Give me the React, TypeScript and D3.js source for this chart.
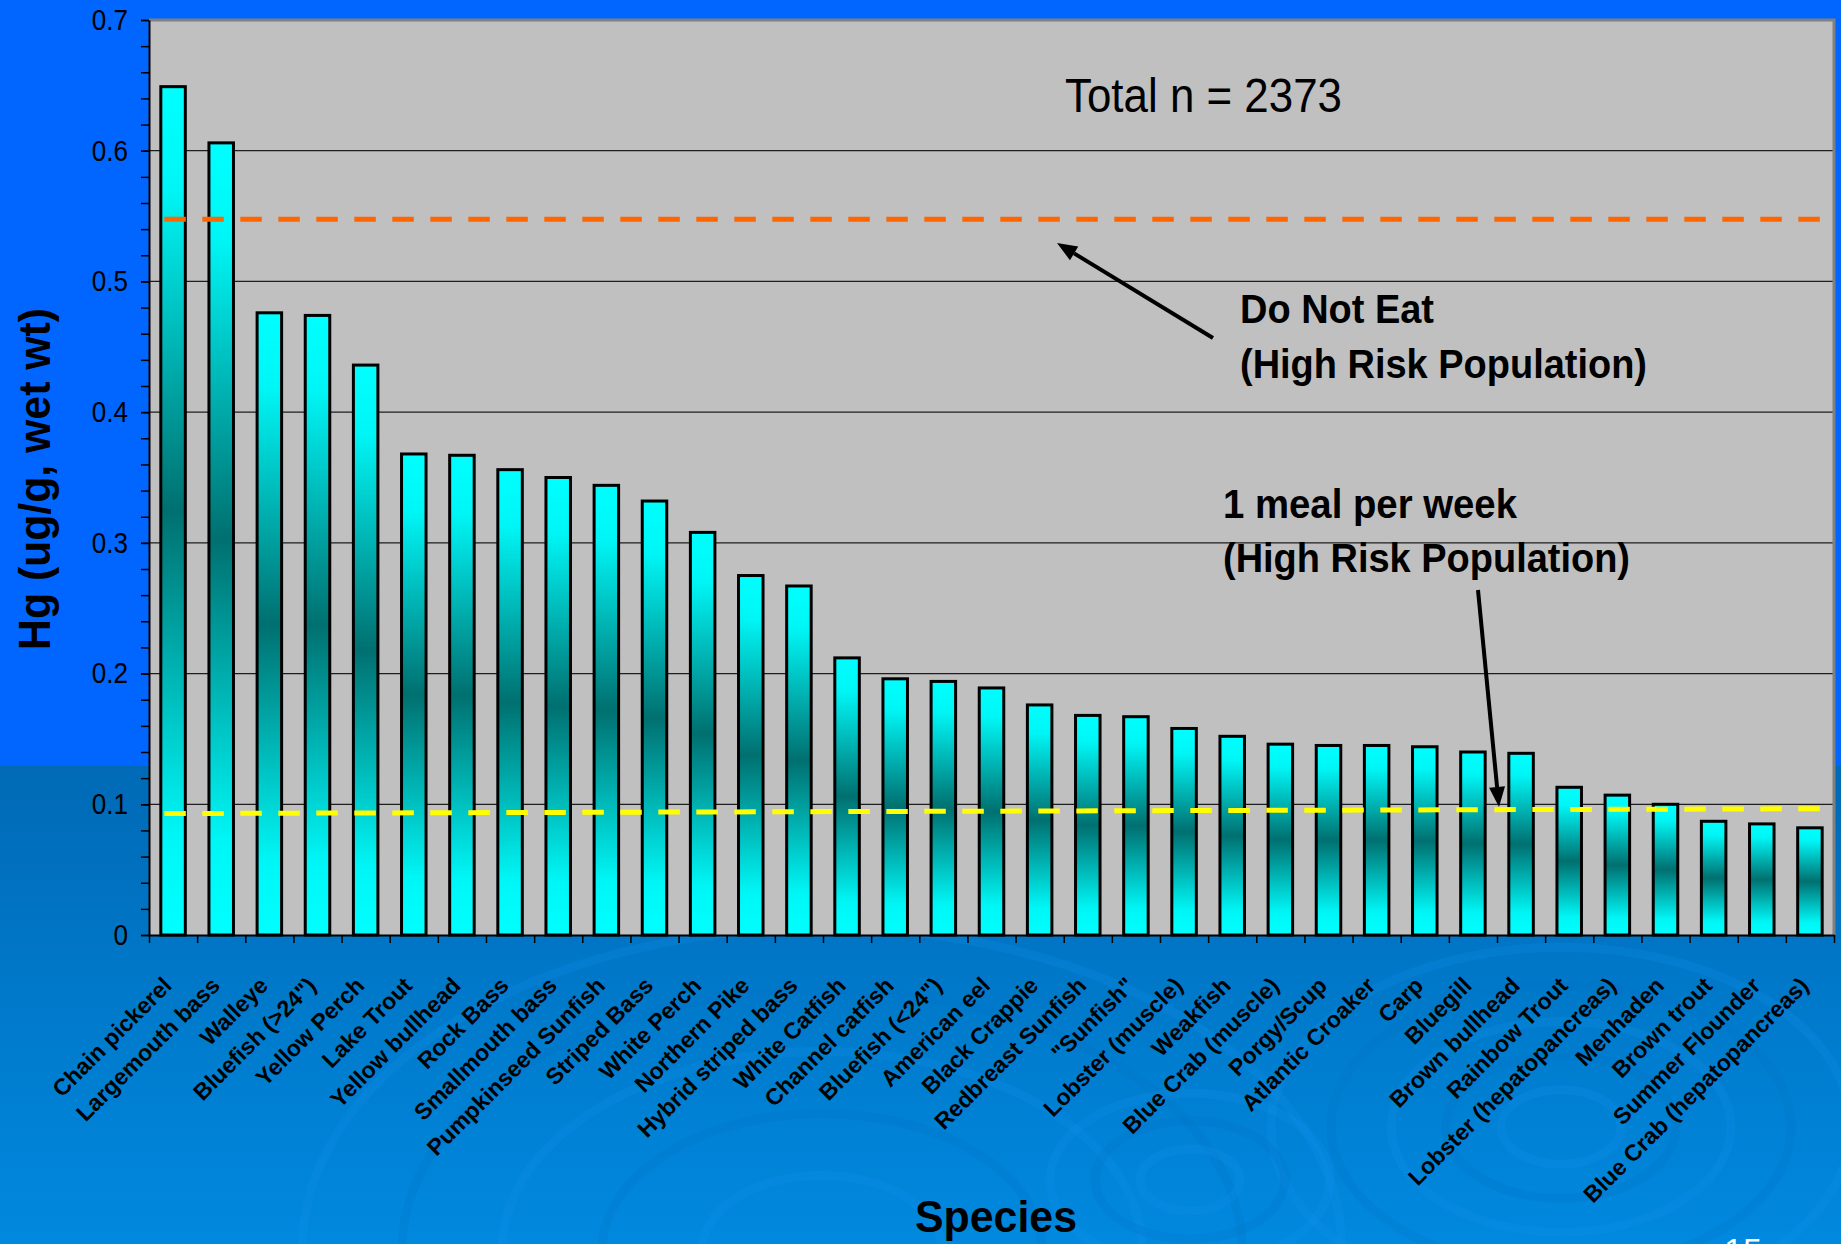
import React, { useEffect, useRef } from "react";
import * as d3 from "d3";

// ---------- data ----------
const species: string[] = [
  "Chain pickerel", "Largemouth bass", "Walleye", "Bluefish (>24\")", "Yellow Perch",
  "Lake Trout", "Yellow bullhead", "Rock Bass", "Smallmouth bass", "Pumpkinseed Sunfish",
  "Striped Bass", "White Perch", "Northern Pike", "Hybrid striped bass", "White Catfish",
  "Channel catfish", "Bluefish (<24\")", "American eel", "Black Crappie", "Redbreast Sunfish",
  "\"Sunfish\"", "Lobster (muscle)", "Weakfish", "Blue Crab (muscle)", "Porgy/Scup",
  "Atlantic Croaker", "Carp", "Bluegill", "Brown bullhead", "Rainbow Trout",
  "Lobster (hepatopancreas)", "Menhaden", "Brown trout", "Summer Flounder", "Blue Crab (hepatopancreas)",
];

const hgValues: number[] = [
  0.649, 0.606, 0.476, 0.474, 0.436,
  0.368, 0.367, 0.356, 0.350, 0.344,
  0.332, 0.308, 0.275, 0.267, 0.212,
  0.196, 0.194, 0.189, 0.176, 0.168,
  0.167, 0.158, 0.152, 0.146, 0.145,
  0.145, 0.144, 0.140, 0.139, 0.113,
  0.107, 0.100, 0.087, 0.085, 0.082,
];

const yTickValues: number[] = [0, 0.1, 0.2, 0.3, 0.4, 0.5, 0.6, 0.7];
const yTickLabels: string[] = ["0", "0.1", "0.2", "0.3", "0.4", "0.5", "0.6", "0.7"];
const yMinorStep = 0.02;
const yMax = 0.7;

const doNotEatLevel = 0.5475;
const mealLevelStart = 0.0929;
const mealLevelEnd = 0.0966;

const totalLabel = "Total n = 2373";
const doNotEatLines: string[] = ["Do Not Eat", "(High Risk Population)"];
const mealLines: string[] = ["1 meal per week", "(High Risk Population)"];
const xTitle = "Species";
const yTitle = "Hg (ug/g, wet wt)";
const pageNumber = "15";

// ---------- layout ----------
const W = 1841;
const H = 1244;
const P = { left: 149, top: 20, right: 1834, bottom: 935 };
const FONT = "'Liberation Sans', Arial, Helvetica, sans-serif";

export default function App() {
  const ref = useRef<SVGSVGElement | null>(null);

  useEffect(() => {
    const svg = d3.select(ref.current as SVGSVGElement);
    svg.selectAll("*").remove();

    const defs = svg.append("defs");
    const bg = defs.append("linearGradient").attr("id", "bgLower")
      .attr("x1", 0).attr("y1", 0).attr("x2", 0).attr("y2", 1);
    bg.append("stop").attr("offset", 0).attr("stop-color", "#006AB6");
    bg.append("stop").attr("offset", 1).attr("stop-color", "#0089DF");

    const bar = defs.append("linearGradient").attr("id", "barGrad")
      .attr("x1", 0).attr("y1", 0).attr("x2", 0).attr("y2", 1);
    [
      [0, "#00FFFF"], [0.12, "#00F6F6"], [0.5, "#007070"],
      [0.88, "#00F6F6"], [1, "#00FFFF"],
    ].forEach(([o, c]) => bar.append("stop").attr("offset", o as number).attr("stop-color", c as string));

    defs.append("clipPath").attr("id", "lowerClip")
      .append("rect").attr("x", 0).attr("y", 766).attr("width", W).attr("height", H - 766);

    // background
    svg.append("rect").attr("x", 0).attr("y", 0).attr("width", W).attr("height", 766).attr("fill", "#0066FF");
    svg.append("rect").attr("x", 0).attr("y", 766).attr("width", W).attr("height", H - 766).attr("fill", "url(#bgLower)");

    // decorative ripples
    const rip = svg.append("g").attr("clip-path", "url(#lowerClip)").attr("fill", "none");
    const rippleSets: [number, number, number[]][] = [
      [1561, 1127, [60, 115, 170, 230, 290]],
      [822, 1250, [120, 220, 320, 420, 520]],
      [1190, 1180, [50, 95, 140]],
    ];
    rippleSets.forEach(([cx, cy, rs]) => {
      rs.forEach((r, k) => {
        rip.append("ellipse").attr("cx", cx).attr("cy", cy).attr("rx", r).attr("ry", r * 0.62)
          .attr("stroke", k % 2 === 0 ? "#1393EC" : "#0071C4")
          .attr("stroke-width", 9).attr("opacity", 0.22);
      });
    });

    const x = d3.scaleBand<string>().domain(species).range([P.left, P.right])
      .paddingInner(0.4286).paddingOuter(0.2143);
    const y = d3.scaleLinear().domain([0, yMax]).range([P.bottom, P.top]);
    const bw = x.bandwidth();

    // plot area
    svg.append("rect").attr("x", P.left).attr("y", P.top)
      .attr("width", P.right - P.left).attr("height", P.bottom - P.top).attr("fill", "#C0C0C0");

    // gridlines
    svg.append("g").selectAll("line")
      .data(yTickValues.filter((v) => v > 0 && v < yMax))
      .join("line")
      .attr("x1", P.left).attr("x2", P.right)
      .attr("y1", (d) => y(d)).attr("y2", (d) => y(d))
      .attr("stroke", "#1E1E1E").attr("stroke-width", 1.2);

    // bars
    svg.append("g").selectAll("rect")
      .data(species.map((s, i) => ({ s, v: hgValues[i] })))
      .join("rect")
      .attr("x", (d) => (x(d.s) as number) + 1.5)
      .attr("width", bw - 3)
      .attr("y", (d) => y(d.v))
      .attr("height", (d) => y(0) - y(d.v))
      .attr("fill", "url(#barGrad)")
      .attr("stroke", "#000").attr("stroke-width", 3);

    // reference lines
    const lx1 = (x(species[0]) as number) + 5;
    const lx2 = (x(species[species.length - 1]) as number) + bw - 2;
    svg.append("line").attr("x1", lx1).attr("x2", lx2)
      .attr("y1", y(doNotEatLevel)).attr("y2", y(doNotEatLevel))
      .attr("stroke", "#FF6600").attr("stroke-width", 5).attr("stroke-dasharray", "21.5 16.5");
    svg.append("line").attr("x1", lx1).attr("x2", lx2)
      .attr("y1", y(mealLevelStart)).attr("y2", y(mealLevelEnd))
      .attr("stroke", "#FFFF00").attr("stroke-width", 5).attr("stroke-dasharray", "21.5 16.5");

    // plot border (top, right)
    svg.append("path")
      .attr("d", `M${P.left},${P.top}H${P.right}V${P.bottom}`)
      .attr("fill", "none").attr("stroke", "#808080").attr("stroke-width", 3);

    // y axis minor ticks
    const minorVals = d3.range(0, Math.round(yMax / yMinorStep) + 1).map((i) => i * yMinorStep);
    const gMinor = svg.append("g").attr("transform", `translate(${P.left},0)`)
      .call(d3.axisLeft(y).tickValues(minorVals).tickSize(8).tickSizeOuter(0).tickFormat(() => ""));
    gMinor.select(".domain").attr("stroke", "#000").attr("stroke-width", 2);
    gMinor.selectAll(".tick line").attr("stroke", "#000").attr("stroke-width", 1.5);

    // y axis major ticks + labels
    const gY = svg.append("g").attr("transform", `translate(${P.left},0)`)
      .call(d3.axisLeft(y).tickValues(yTickValues).tickSize(8).tickPadding(13).tickSizeOuter(0)
        .tickFormat((_d, i) => yTickLabels[i]));
    gY.select(".domain").remove();
    gY.selectAll(".tick line").attr("stroke", "#000").attr("stroke-width", 1.5);
    gY.selectAll(".tick text")
      .attr("font-family", FONT).attr("font-size", 29).attr("fill", "#000")
      .attr("x", -21 / 0.9).attr("transform", "scale(0.9,1)");

    // x axis ticks at category boundaries
    const xb = d3.scaleLinear().domain([0, species.length]).range([P.left, P.right]);
    const gX = svg.append("g").attr("transform", `translate(0,${P.bottom})`)
      .call(d3.axisBottom(xb).tickValues(d3.range(0, species.length + 1)).tickSize(8)
        .tickSizeOuter(0).tickFormat(() => ""));
    gX.select(".domain").attr("stroke", "#000").attr("stroke-width", 2);
    gX.selectAll(".tick line").attr("stroke", "#000").attr("stroke-width", 1.5);

    // x labels
    svg.append("g").selectAll("text")
      .data(species)
      .join("text")
      .attr("transform", (d) => `translate(${(x(d) as number) + bw / 2},${P.bottom + 52}) rotate(-45)`)
      .attr("text-anchor", "end")
      .attr("font-family", FONT).attr("font-weight", "bold").attr("font-size", 23)
      .attr("fill", "#000")
      .text((d) => d);

    // axis titles
    svg.append("text")
      .attr("transform", `translate(50,479) rotate(-90)`)
      .attr("text-anchor", "middle")
      .attr("font-family", FONT).attr("font-weight", "bold").attr("font-size", 44)
      .attr("textLength", 342).attr("lengthAdjust", "spacingAndGlyphs")
      .attr("fill", "#000").text(yTitle);

    svg.append("text")
      .attr("x", 915).attr("y", 1232)
      .attr("font-family", FONT).attr("font-weight", "bold").attr("font-size", 45)
      .attr("textLength", 162).attr("lengthAdjust", "spacingAndGlyphs")
      .attr("fill", "#000").text(xTitle);

    // annotations
    svg.append("text")
      .attr("x", 1065).attr("y", 112)
      .attr("font-family", FONT).attr("font-size", 49)
      .attr("textLength", 277).attr("lengthAdjust", "spacingAndGlyphs")
      .attr("fill", "#000").text(totalLabel);

    const annot = (lines: string[], xs: number, ys: number[], lens: number[]) => {
      lines.forEach((t, i) => {
        svg.append("text").attr("x", xs).attr("y", ys[i])
          .attr("font-family", FONT).attr("font-weight", "bold").attr("font-size", 41)
          .attr("textLength", lens[i]).attr("lengthAdjust", "spacingAndGlyphs")
          .attr("fill", "#000").text(t);
      });
    };
    annot(doNotEatLines, 1240, [323, 378], [194, 407]);
    annot(mealLines, 1223, [518, 572], [294, 407]);

    const arrow = (x1: number, y1: number, x2: number, y2: number) => {
      const ang = Math.atan2(y2 - y1, x2 - x1);
      const hl = 20, hw = 8;
      const bx = x2 - hl * Math.cos(ang), by = y2 - hl * Math.sin(ang);
      svg.append("line").attr("x1", x1).attr("y1", y1).attr("x2", bx).attr("y2", by)
        .attr("stroke", "#000").attr("stroke-width", 4);
      const px = -Math.sin(ang) * hw, py = Math.cos(ang) * hw;
      svg.append("path")
        .attr("d", `M${x2},${y2}L${bx + px},${by + py}L${bx - px},${by - py}Z`)
        .attr("fill", "#000");
    };
    arrow(1213, 338, 1057, 243);
    arrow(1478, 590, 1499, 807);

    // page number (cut at bottom edge, as in the slide)
    svg.append("text").attr("x", 1724).attr("y", 1262)
      .attr("font-family", FONT).attr("font-size", 34).attr("fill", "#FFFFFF").text(pageNumber);
  }, []);

  return (
    <svg
      ref={ref}
      width={W}
      height={H}
      style={{ position: "absolute", left: 0, top: 0, display: "block" }}
    />
  );
}
